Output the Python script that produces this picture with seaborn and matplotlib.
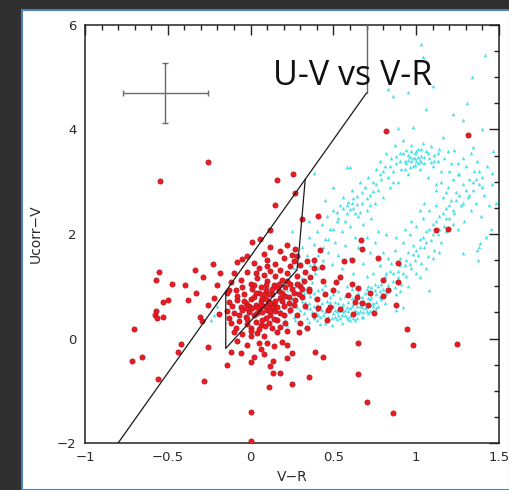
import matplotlib
matplotlib.use("Agg")
import matplotlib.pyplot as plt
import pandas as pd
import seaborn as sns
from matplotlib.patches import Rectangle
from matplotlib.ticker import MultipleLocator

# ---------------- data ----------------
red_outliers = [
    (0.82, 3.98), (1.31, 3.90), (-0.26, 3.37), (-0.545, 3.02), (0.254, 3.15), (0.16, 3.03),
    (0.266, 2.79), (0.147, 2.55), (0.31, 2.28), (0.41, 2.34), (1.12, 2.07), (1.19, 2.10),
    (0.666, 1.88), (0.67, 1.72), (0.77, 1.55), (0.89, 1.45), (0.946, 0.18), (0.98, -0.13),
    (1.244, -0.10), (0.878, 0.64), (0.747, 0.48), (0.646, -0.08), (0.646, -0.67), (0.704, -1.22),
    (0.86, -1.43), (0.0, -1.41), (0.0, -1.97), (0.109, -0.93), (0.25, -0.87), (0.355, -0.73),
    (0.137, -0.66), (0.178, -0.66), (0.39, -0.25), (0.44, -0.35), (-0.28, -0.81), (-0.557, -0.77),
    (-0.145, -0.51), (-0.714, -0.44), (-0.658, -0.36), (-0.704, 0.18), (-0.437, -0.25), (-0.42, -0.11),
    (-0.26, -0.17), (-0.571, 0.53), (-0.58, 0.45), (-0.567, 0.39), (-0.53, 0.41), (-0.53, 0.69),
    (-0.497, 0.74), (-0.551, 1.28), (-0.571, 1.12), (-0.476, 1.04), (-0.396, 1.02), (-0.336, 1.32),
    (-0.286, 1.18), (-0.23, 1.42), (-0.185, 1.26), (-0.20, 1.02), (-0.33, 0.88), (-0.376, 0.74),
    (-0.306, 0.41), (-0.295, 0.34), (-0.221, 0.77), (-0.19, 0.46), (-0.26, 0.65), (-0.13, 0.93),
    (-0.084, 1.47), (-0.024, 1.57), (0.006, 1.85), (0.056, 1.90), (0.117, 2.07),
]

red_core = [
    (0.12, 1.75), (0.18, 1.68), (0.22, 1.78), (0.27, 1.72), (0.08, 1.62), (0.25, 1.60),
    (-0.05, 1.52), (0.02, 1.45), (0.10, 1.50), (0.15, 1.42), (0.20, 1.55), (0.26, 1.48),
    (0.30, 1.40), (0.05, 1.35), (0.18, 1.32), (-0.10, 1.25), (-0.02, 1.28), (0.08, 1.22),
    (0.12, 1.30), (0.22, 1.25), (0.28, 1.20), (0.33, 1.28), (-0.12, 1.08), (-0.06, 1.12),
    (0.00, 1.05), (0.04, 1.15), (0.10, 1.10), (0.14, 1.02), (0.19, 1.12), (0.24, 1.05),
    (0.30, 1.00), (0.35, 0.95), (-0.14, 0.88), (-0.09, 0.92), (-0.04, 0.85), (0.01, 0.95),
    (0.05, 0.88), (0.09, 0.93), (0.13, 0.85), (0.17, 0.90), (0.21, 0.82), (0.26, 0.88),
    (0.31, 0.80), (0.18, 0.78), (-0.13, 0.70), (-0.08, 0.74), (-0.03, 0.68), (0.00, 0.75),
    (0.03, 0.65), (0.06, 0.72), (0.08, 0.62), (0.11, 0.70), (0.14, 0.66), (0.19, 0.72),
    (0.23, 0.68), (0.27, 0.74), (0.02, 0.80), (-0.06, 0.60), (-0.14, 0.52), (-0.10, 0.48),
    (-0.05, 0.55), (-0.01, 0.50), (0.02, 0.45), (0.05, 0.56), (0.07, 0.50), (0.10, 0.55),
    (0.12, 0.45), (0.15, 0.52), (0.04, 0.60), (0.09, 0.40), (-0.03, 0.42), (-0.12, 0.30),
    (-0.07, 0.34), (-0.02, 0.28), (0.03, 0.32), (0.06, 0.25), (0.11, 0.30), (0.16, 0.35),
    (0.208, 0.29), (0.087, 0.23), (0.00, 0.20), (-0.10, 0.12), (-0.05, 0.08), (0.00, 0.15),
    (0.04, 0.10), (0.08, 0.05), (0.158, 0.13), (0.294, 0.13), (0.22, 0.15), (-0.08, -0.05),
    (-0.02, -0.12), (0.05, -0.08), (0.097, -0.09), (0.188, -0.06), (0.248, -0.28), (0.218, -0.38),
    (0.137, -0.43), (-0.12, -0.25), (-0.06, -0.28), (0.02, -0.35), (0.08, -0.30), (0.00, -0.45),
    (0.12, -0.52), (0.07, 0.78), (0.13, 0.60), (0.16, 0.98), (0.21, 0.98), (-0.01, 0.62),
    (0.06, 0.98), (0.03, 1.25), (0.24, 0.55), (0.28, 0.45), (0.20, 0.45), (-0.08, 0.82),
]

red_core_extra = [
    (-0.11, 0.62), (-0.07, 0.45), (-0.04, 0.72), (-0.02, 0.38), (0.01, 0.58), (0.03, 0.88),
    (0.04, 0.48), (0.06, 0.65), (0.07, 0.35), (0.09, 0.75), (0.10, 0.62), (0.11, 0.85),
    (0.12, 0.52), (0.13, 0.95), (0.14, 0.38), (0.15, 0.72), (0.16, 0.60), (0.17, 1.05),
    (0.19, 0.88), (0.20, 0.62), (0.22, 1.10), (0.23, 0.80), (0.25, 0.95), (0.26, 0.65),
    (0.28, 1.05), (0.29, 0.85), (0.32, 1.10), (0.31, 0.95), (-0.13, 0.40), (-0.09, 0.20),
    (0.05, 0.18), (0.13, 0.20), (0.18, 0.22), (0.02, 1.02), (-0.05, 0.98), (0.09, 1.02),
    (0.15, 1.20), (0.24, 1.38), (0.28, 1.58), (0.10, 1.38), (0.00, 0.05), (0.14, -0.15),
    (0.22, -0.12), (0.06, -0.20), (0.30, 0.30), (0.34, 0.20), (-0.03, 0.58), (0.08, 0.85),
    (0.12, 0.68), (0.18, 0.48),
]

red_in_cyan = [
    (0.564, 1.48), (0.61, 1.50), (0.80, 1.12), (0.89, 1.08), (0.83, 0.93), (0.80, 0.82),
    (0.54, 1.18), (0.516, 1.08), (0.61, 1.04), (0.65, 0.96), (0.59, 0.83), (0.64, 0.80),
    (0.72, 0.87), (0.63, 0.69), (0.67, 0.67), (0.71, 0.65), (0.54, 0.56), (0.62, 0.47),
    (0.48, 0.61), (0.41, 0.58), (0.47, 0.55), (0.43, 1.37), (0.42, 1.69), (0.38, 1.50),
    (0.36, 1.18), (0.50, 0.93), (0.45, 0.85), (0.40, 0.75), (0.35, 0.90), (0.44, 1.10),
    (0.38, 0.45), (0.33, 0.62), (0.46, 0.35), (0.34, 1.48), (0.38, 1.35),
]

cyan_lower = [
    (0.12, 0.95), (0.14, 0.62), (0.15, 1.18), (0.16, 0.40), (0.17, 0.85), (0.18, 0.55),
    (0.19, 1.05), (0.20, 0.70), (0.21, 0.35), (0.22, 0.92), (0.23, 0.50), (0.24, 1.22),
    (0.25, 0.78), (0.26, 0.42), (0.27, 1.00), (0.28, 0.60), (0.29, 0.30), (0.30, 0.85),
    (0.31, 1.15), (0.32, 0.48), (0.33, 0.70), (0.34, 0.95), (0.35, 0.32), (0.36, 0.58),
    (0.37, 1.08), (0.38, 0.40), (0.39, 0.78), (0.40, 0.55), (0.41, 0.92), (0.42, 0.28),
    (0.43, 0.68), (0.44, 0.45), (0.45, 1.02), (0.46, 0.36), (0.47, 0.62), (0.48, 0.80),
    (0.49, 0.25), (0.50, 0.48), (0.51, 0.70), (0.52, 0.38), (0.53, 0.90), (0.54, 0.55),
    (0.55, 0.30), (0.56, 0.66), (0.57, 0.45), (0.58, 1.00), (0.59, 0.38), (0.60, 0.58),
    (0.61, 0.78), (0.62, 0.48), (0.63, 0.35), (0.64, 0.62), (0.65, 0.88), (0.66, 0.52),
    (0.67, 0.42), (0.68, 0.72), (0.69, 0.58), (0.70, 0.95), (0.71, 0.48), (0.72, 0.65),
    (0.73, 0.80), (0.74, 0.55), (0.75, 1.05), (0.76, 0.70), (0.77, 0.62), (0.78, 0.90),
    (0.79, 0.75), (0.80, 1.12), (0.81, 0.68), (0.82, 0.88), (0.18, 1.30), (0.22, 0.25),
    (0.26, 1.35), (0.30, 0.55), (0.33, 0.22), (0.36, 0.82), (0.39, 1.25), (0.42, 0.62),
    (0.45, 0.50), (0.47, 0.42), (0.50, 0.62), (0.52, 0.52), (0.54, 0.40), (0.56, 0.52),
    (0.58, 0.60), (0.60, 0.44), (0.62, 0.66), (0.64, 0.40), (0.66, 0.70), (0.68, 0.50),
    (0.50, 0.85), (0.44, 0.85), (0.40, 0.35), (0.37, 0.50), (0.35, 0.68), (0.53, 0.68),
    (0.57, 0.82), (0.61, 0.95), (0.46, 0.72), (0.41, 0.45), (0.49, 0.40), (0.55, 0.45),
    (0.59, 0.52), (0.63, 0.55), (0.48, 0.55), (0.43, 0.55), (0.38, 0.62), (0.34, 0.40),
    (0.31, 0.72), (0.28, 0.88), (0.65, 0.48), (0.67, 0.60), (0.70, 0.60), (0.72, 0.52),
    (0.74, 0.68), (0.76, 0.85), (0.71, 0.78), (0.69, 0.88), (0.73, 0.98), (0.77, 1.00),
]

cyan_right = [
    (0.82, 1.25), (0.84, 0.95), (0.85, 1.45), (0.86, 1.10), (0.87, 1.70), (0.88, 0.85),
    (0.89, 1.30), (0.90, 1.55), (0.91, 1.05), (0.92, 1.85), (0.93, 1.40), (0.94, 1.20),
    (0.95, 1.65), (0.96, 2.00), (0.97, 1.35), (0.98, 1.78), (0.99, 1.50), (1.00, 2.15),
    (1.01, 1.60), (1.02, 1.90), (1.03, 1.45), (1.04, 2.30), (1.05, 1.75), (1.06, 2.05),
    (1.07, 1.58), (1.08, 2.45), (1.09, 1.88), (1.10, 2.20), (1.11, 1.70), (1.12, 2.55),
    (1.13, 2.00), (1.14, 2.35), (1.15, 1.85), (1.16, 2.70), (1.17, 2.15), (1.18, 2.50),
    (1.19, 2.90), (1.20, 2.30), (1.21, 2.65), (1.22, 3.05), (1.23, 2.40), (1.24, 2.80),
    (1.25, 2.10), (1.26, 3.15), (1.27, 2.55), (1.28, 2.95), (1.29, 2.25), (1.30, 3.30),
    (1.31, 2.70), (1.32, 3.05), (1.33, 2.45), (1.34, 2.85), (1.35, 3.20), (1.36, 2.60),
    (1.37, 3.40), (1.38, 2.95), (1.39, 2.35), (1.40, 3.10), (1.41, 2.75), (1.43, 3.30),
    (1.44, 2.55), (1.46, 2.95), (1.42, 1.95), (1.38, 1.75), (0.83, 1.55), (0.88, 1.95),
    (0.93, 2.10), (0.97, 2.25), (1.02, 2.45), (1.06, 1.35), (1.10, 1.55), (1.14, 1.65),
    (1.18, 2.05), (1.22, 2.20), (0.95, 1.00), (1.00, 1.25), (0.90, 0.90), (1.05, 2.60),
    (1.12, 2.85), (1.28, 3.45), (1.33, 3.55), (1.20, 3.20), (1.15, 3.00), (1.25, 3.35),
]

cyan_upper = [
    (0.30, 1.45), (0.31, 1.75), (0.33, 1.30), (0.34, 1.60), (0.35, 1.95), (0.36, 1.40),
    (0.38, 1.80), (0.39, 1.55), (0.40, 2.05), (0.41, 1.35), (0.42, 1.70), (0.43, 2.20),
    (0.44, 1.50), (0.45, 1.90), (0.46, 2.35), (0.47, 1.65), (0.48, 2.10), (0.49, 1.42),
    (0.50, 2.45), (0.51, 1.85), (0.52, 2.25), (0.53, 1.60), (0.54, 2.55), (0.55, 2.05),
    (0.56, 2.70), (0.57, 1.78), (0.58, 2.40), (0.59, 2.62), (0.60, 2.15), (0.61, 2.85),
    (0.62, 2.50), (0.63, 1.95), (0.64, 2.72), (0.65, 2.35), (0.66, 3.00), (0.67, 2.60),
    (0.68, 2.20), (0.69, 2.90), (0.70, 2.45), (0.71, 3.10), (0.72, 2.75), (0.73, 2.30),
    (0.74, 3.00), (0.75, 2.60), (0.76, 3.25), (0.77, 2.85), (0.78, 3.40), (0.79, 3.05),
    (0.80, 2.70), (0.81, 3.30), (0.82, 3.55), (0.83, 3.10), (0.84, 2.90), (0.85, 3.45),
    (0.86, 3.20), (0.87, 3.70), (0.88, 3.35), (0.89, 3.00), (0.90, 3.55), (0.91, 3.25),
    (0.92, 3.80), (0.93, 3.40), (0.94, 3.60), (0.95, 3.15), (0.96, 3.48), (0.97, 3.70),
    (0.98, 3.30), (0.99, 3.55), (1.00, 3.40), (1.01, 3.62), (1.02, 3.25), (1.03, 3.50),
    (1.04, 3.75), (1.05, 3.35), (1.06, 3.58), (1.07, 3.10), (1.08, 3.45), (1.09, 3.68),
    (1.10, 3.30), (1.11, 3.52), (1.12, 2.95), (1.13, 3.40), (1.14, 3.62), (1.15, 3.20),
    (1.17, 3.45), (1.18, 2.80), (1.19, 3.58), (1.21, 3.35), (1.23, 3.60), (1.25, 3.15),
    (0.94, 3.35), (0.96, 3.28), (0.98, 3.45), (1.00, 3.58), (1.02, 3.42), (0.97, 3.40),
    (0.99, 3.32), (1.01, 3.48), (0.95, 3.52), (1.03, 3.38), (0.58, 2.55), (0.60, 2.48),
    (0.62, 2.68), (0.56, 2.50), (0.64, 2.58), (0.52, 2.42), (0.66, 2.42), (0.61, 2.60),
    (0.55, 1.35), (0.60, 1.55), (0.65, 1.75), (0.70, 1.95), (0.62, 1.25), (0.68, 1.45),
    (0.72, 1.65), (0.75, 1.85), (0.78, 1.40), (0.74, 1.25), (0.80, 1.65), (0.77, 2.05),
    (0.82, 2.00), (0.70, 1.20),
]

cyan_extra = [
    (0.24, 0.62), (0.27, 0.35), (0.29, 1.08), (0.32, 0.88), (0.34, 0.58), (0.36, 1.20),
    (0.38, 0.88), (0.40, 0.65), (0.42, 0.42), (0.43, 0.95), (0.45, 0.30), (0.46, 0.58),
    (0.48, 0.70), (0.49, 0.92), (0.51, 0.42), (0.51, 0.55), (0.53, 0.45), (0.54, 0.78),
    (0.55, 0.62), (0.57, 0.55), (0.58, 0.42), (0.59, 0.70), (0.60, 0.35), (0.61, 0.62),
    (0.62, 0.40), (0.63, 0.78), (0.64, 0.50), (0.66, 0.62), (0.67, 0.80), (0.68, 0.42),
    (0.69, 0.68), (0.70, 0.52), (0.71, 1.00), (0.72, 0.75), (0.74, 0.62), (0.75, 0.92),
    (0.76, 0.58), (0.78, 0.80), (0.79, 1.05), (0.80, 0.95), (0.81, 1.20), (0.83, 1.02),
    (0.84, 1.30), (0.86, 1.25), (0.87, 0.98), (0.89, 1.18), (0.90, 1.40), (0.92, 1.25),
    (0.94, 1.50), (0.96, 1.42), (0.98, 1.62), (1.00, 1.70), (1.02, 1.75), (1.04, 1.95),
    (1.06, 1.85), (1.08, 2.10), (1.10, 2.00), (1.12, 2.25), (1.14, 2.10), (1.16, 2.40),
    (1.18, 2.30), (1.20, 2.55), (1.22, 2.45), (1.24, 2.65), (1.26, 2.75), (1.28, 2.60),
    (1.30, 2.85), (1.32, 2.75), (1.34, 3.00), (1.36, 3.05), (1.38, 3.20), (1.40, 2.90),
    (0.88, 3.50), (0.90, 3.40), (0.92, 3.55), (0.93, 3.25), (0.95, 3.42), (0.97, 3.58),
    (0.99, 3.45), (1.01, 3.35), (1.03, 3.62), (1.05, 3.48), (1.07, 3.55), (1.09, 3.38),
    (1.11, 3.40), (1.13, 3.55), (0.70, 2.68), (0.72, 2.55), (0.74, 2.82), (0.76, 2.95),
    (0.78, 3.15), (0.80, 3.20), (0.84, 3.30), (0.86, 3.00), (0.50, 2.10), (0.47, 1.90),
    (0.44, 1.75), (0.41, 1.60), (0.38, 1.45), (0.53, 2.30), (0.57, 2.25), (0.63, 2.40),
    (0.67, 2.80),
]

cyan_sparse = [
    (1.03, 5.64), (1.04, 5.39), (1.415, 5.43), (1.335, 5.01), (0.83, 4.78), (0.86, 4.65),
    (0.95, 4.72), (1.10, 4.84), (1.06, 4.39), (1.225, 4.30), (1.305, 4.50), (1.285, 4.18),
    (1.395, 4.01), (1.465, 3.58), (1.455, 3.16), (1.345, 3.67), (1.16, 3.85), (0.89, 4.02),
    (0.98, 4.05), (0.60, 3.29), (0.38, 3.16), (0.58, 3.28), (0.50, 2.90), (1.385, 1.82),
    (1.375, 1.50), (1.365, 1.69), (1.28, 1.63), (1.08, 0.93), (1.02, 1.18), (0.92, 0.61),
    (-0.22, 0.45), (-0.20, 0.62), (-0.24, 0.35), (0.25, 2.05), (0.35, 2.25), (0.45, 2.65),
    (1.45, 2.10), (1.48, 2.60), (0.88, 0.55), (0.30, 0.10),
]

# selection boundary and error cross
boundary_vr = [-0.8, 0.7]
boundary_uv = [-2.0, 4.7]
boundary_top_vr = [0.7, 0.7]
boundary_top_uv = [4.7, 6.0]
inner_vr = [0.33, 0.295, 0.28, -0.15, -0.15]
inner_uv = [3.05, 1.77, 1.31, -0.19, 0.91]
err_center = (-0.515, 4.69)
err_x, err_y = 0.255, 0.575

x_ticks = [-1, -0.5, 0, 0.5, 1, 1.5]
x_ticklabels = ["\u22121", "\u22120.5", "0", "0.5", "1", "1.5"]
y_ticks = [-2, 0, 2, 4, 6]
y_ticklabels = ["\u22122", "0", "2", "4", "6"]

# ---------------- figure ----------------
sns.set_theme(style="white")
plt.rcParams["font.family"] = ["DejaVu Sans"]

W, H = 510, 490
fig = plt.figure(figsize=(W / 100, H / 100), dpi=100, facecolor="#2f2f2f")
panel = Rectangle((22 / W, 0), 1 - 22 / W, 480 / H, transform=fig.transFigure,
                  facecolor="white", edgecolor="#4a7fc0", lw=1.5, zorder=-10)
fig.patches.append(panel)

ax = fig.add_axes([85 / W, 47 / H, 414 / W, 418 / H])
ax.set_zorder(5)
ax.set_facecolor("white")

cyan = pd.DataFrame(cyan_lower + cyan_right + cyan_upper + cyan_extra + cyan_sparse,
                    columns=["vr", "uv"])
red = pd.DataFrame(red_outliers + red_core + red_core_extra + red_in_cyan,
                   columns=["vr", "uv"])

sns.scatterplot(data=cyan, x="vr", y="uv", marker="^", s=7, color="#4fe0e8",
                linewidth=0, ax=ax, zorder=2)
sns.scatterplot(data=red, x="vr", y="uv", marker="o", s=14, color="#f01818",
                edgecolor="#a81830", linewidth=0.5, ax=ax, zorder=3)

ax.plot(boundary_vr, boundary_uv, color="#1a1a1a", lw=0.9, zorder=4)
ax.plot(boundary_top_vr, boundary_top_uv, color="#666666", lw=1.0, zorder=4)
ax.plot(inner_vr, inner_uv, color="#1a1a1a", lw=0.9, zorder=4)
ax.errorbar([err_center[0]], [err_center[1]], xerr=[err_x], yerr=[err_y],
            color="#6a6a6a", lw=1.0, capsize=2.5, capthick=1.0, zorder=4)

ax.set_xlim(-1, 1.5)
ax.set_ylim(-2, 6)
ax.set_xticks(x_ticks)
ax.set_xticklabels(x_ticklabels)
ax.set_yticks(y_ticks)
ax.set_yticklabels(y_ticklabels)
ax.xaxis.set_minor_locator(MultipleLocator(0.1))
ax.yaxis.set_minor_locator(MultipleLocator(0.5))
ax.tick_params(which="both", direction="in", top=True, right=True, color="#222222",
               width=1.0)
ax.tick_params(which="major", length=7, labelsize=9.5, labelcolor="#2a2a2a", pad=6)
ax.tick_params(which="minor", length=3.5)
for sp in ax.spines.values():
    sp.set_color("#222222")
    sp.set_linewidth(1.1)

ax.set_xlabel("V\u2212R", fontsize=10, color="#2a2a2a", labelpad=4)
ax.set_ylabel("Ucorr\u2212V", fontsize=10, color="#2a2a2a", labelpad=10)

ax.text(0.454, 0.856, "U-V vs V-R", transform=ax.transAxes, fontsize=24.5,
        family=["Open Sans", "DejaVu Sans"], color="#111111", ha="left", va="baseline", zorder=5)

fig.savefig("out.png", dpi=100, facecolor=fig.get_facecolor())
